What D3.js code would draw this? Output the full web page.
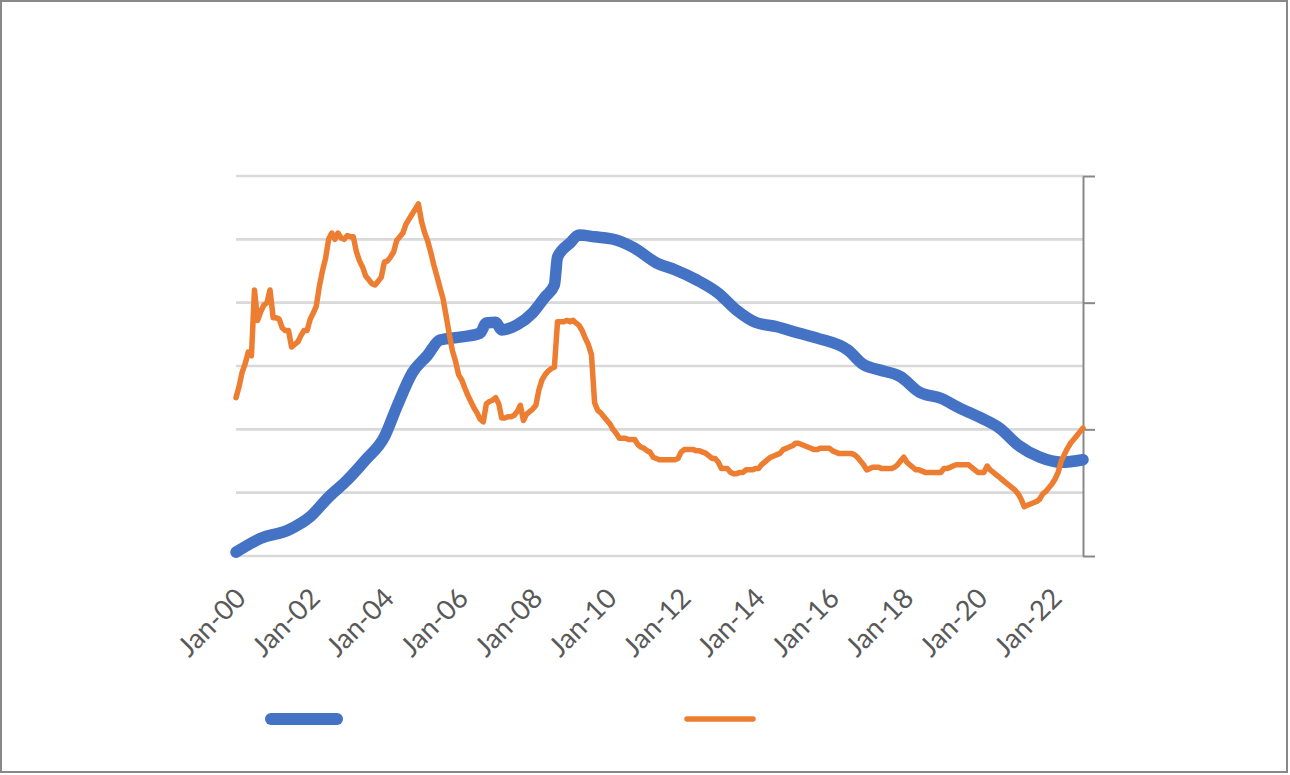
<!DOCTYPE html>
<html>
<head>
<meta charset="utf-8">
<script src="https://cdn.jsdelivr.net/npm/d3@7"></script>
<style>
  html, body { margin: 0; padding: 0; background: #fff; }
  svg { display: block; }
</style>
</head>
<body>
<svg id="chart" width="1290" height="775"></svg>
<script>
// ---------- DATA ----------
// Blue series (left axis), sampled points
const blueDates = ["2000-01","2000-09","2001-06","2002-01","2002-07","2003-01","2003-07","2004-01","2004-05","2004-10",
  "2005-03","2005-07","2006-02","2006-08","2006-10","2007-01","2007-03","2007-08","2008-01","2008-05",
  "2008-08","2008-09","2009-01","2009-04","2009-09","2010-04","2010-10","2011-05","2011-11","2012-06",
  "2013-01","2013-07","2014-01","2014-08","2015-03","2015-09","2016-07","2016-12","2017-05","2017-12",
  "2018-06","2019-01","2019-07","2020-02","2020-08","2021-02","2021-09","2022-04","2022-11"];
const blueValues = [0.06,0.28,0.41,0.62,0.93,1.20,1.52,1.88,2.35,2.89,
  3.17,3.41,3.46,3.52,3.68,3.69,3.57,3.65,3.84,4.09,
  4.28,4.72,4.94,5.07,5.04,4.99,4.86,4.63,4.52,4.36,
  4.15,3.88,3.69,3.62,3.52,3.44,3.25,3.02,2.94,2.83,
  2.59,2.49,2.34,2.18,2.02,1.75,1.56,1.48,1.52];

// Orange series (right axis), monthly from Jan 2000 to Nov 2022
const orangeStart = "2000-01";
const orangeValues = [
  1.25,1.34,1.45,1.52,1.61,1.58,2.10,1.86,1.93,1.98,2.00,2.10, // 2000
  1.88,1.88,1.87,1.80,1.78,1.78,1.65,1.67,1.69,1.74,1.78,1.78, // 2001
  1.87,1.92,1.97,2.13,2.25,2.35,2.50,2.55,2.50,2.55,2.51,2.50, // 2002
  2.53,2.52,2.52,2.40,2.33,2.28,2.21,2.18,2.15,2.14,2.17,2.20, // 2003
  2.32,2.33,2.36,2.40,2.49,2.52,2.55,2.62,2.66,2.70,2.74,2.78, // 2004
  2.64,2.55,2.49,2.40,2.30,2.21,2.12,2.03,1.89,1.75,1.62,1.54, // 2005
  1.43,1.39,1.33,1.27,1.22,1.17,1.13,1.08,1.06,1.20,1.22,1.23, // 2006
  1.25,1.20,1.09,1.09,1.10,1.10,1.11,1.14,1.19,1.07,1.12,1.14, // 2007
  1.16,1.19,1.31,1.39,1.43,1.46,1.48,1.49,1.85,1.85,1.85,1.86, // 2008
  1.85,1.86,1.84,1.82,1.78,1.72,1.67,1.59,1.21,1.15,1.13,1.10, // 2009
  1.07,1.04,1.00,0.97,0.93,0.93,0.93,0.92,0.92,0.92,0.88,0.86, // 2010
  0.85,0.83,0.82,0.78,0.77,0.76,0.76,0.76,0.76,0.76,0.76,0.77, // 2011
  0.82,0.84,0.84,0.84,0.84,0.83,0.83,0.82,0.81,0.79,0.77,0.77, // 2012
  0.74,0.69,0.69,0.69,0.66,0.65,0.65,0.66,0.66,0.68,0.68,0.68, // 2013
  0.69,0.69,0.72,0.74,0.76,0.78,0.79,0.80,0.81,0.84,0.85,0.86, // 2014
  0.87,0.89,0.89,0.88,0.87,0.86,0.85,0.84,0.84,0.85,0.85,0.85, // 2015
  0.85,0.83,0.82,0.81,0.81,0.81,0.81,0.81,0.80,0.78,0.75,0.72, // 2016
  0.68,0.69,0.70,0.70,0.70,0.69,0.69,0.69,0.69,0.70,0.72,0.75, // 2017
  0.78,0.74,0.72,0.70,0.68,0.68,0.67,0.66,0.66,0.66,0.66,0.66, // 2018
  0.66,0.69,0.69,0.70,0.71,0.72,0.72,0.72,0.72,0.72,0.70,0.68, // 2019
  0.66,0.66,0.66,0.71,0.68,0.66,0.64,0.62,0.60,0.58,0.56,0.54, // 2020
  0.52,0.49,0.45,0.39,0.40,0.41,0.42,0.43,0.45,0.49,0.51,0.54, // 2021
  0.57,0.61,0.66,0.75,0.80,0.85,0.89,0.92,0.95,0.98,1.01       // 2022
];

// Axis settings
const xDomain = ["2000-01","2022-11"];
const xTickLabels = ["Jan-00","Jan-02","Jan-04","Jan-06","Jan-08","Jan-10","Jan-12","Jan-14","Jan-16","Jan-18","Jan-20","Jan-22"];
const leftTicks = [0,1,2,3,4,5,6];
const rightTicks = [0,1,2,3];

// ---------- DRAWING ----------
const parseM = d3.timeParse("%Y-%m");
const parseLbl = d3.timeParse("%b-%y");
const svg = d3.select("#chart");

const plot = {left: 236, right: 1083, top: 176, bottom: 556};

const x = d3.scaleTime().domain(xDomain.map(parseM)).range([plot.left, plot.right]);
const yL = d3.scaleLinear().domain([0, 6]).range([plot.bottom, plot.top]);
const yR = d3.scaleLinear().domain([0, 3]).range([plot.bottom, plot.top]);

// outer frame
svg.append("rect")
  .attr("x", 1).attr("y", 1).attr("width", 1286).attr("height", 771)
  .attr("fill", "#fff").attr("stroke", "#898989").attr("stroke-width", 2);

// gridlines
svg.append("g").selectAll("line").data(leftTicks).join("line")
  .attr("x1", plot.left).attr("x2", plot.right)
  .attr("y1", d => yL(d)).attr("y2", d => yL(d))
  .attr("stroke", "#d9d9d9").attr("stroke-width", 2.6);

// right axis
const rAxis = svg.append("g")
  .attr("transform", `translate(${plot.right},0)`)
  .call(d3.axisRight(yR).tickValues(rightTicks).tickSize(12).tickSizeOuter(0).tickFormat(""));
rAxis.selectAll("path,line").attr("stroke", "#888888").attr("stroke-width", 2);

// x axis labels
const xAxis = svg.append("g")
  .attr("transform", `translate(0,${plot.bottom})`)
  .call(d3.axisBottom(x).tickValues(xTickLabels.map(parseLbl)).tickSize(0).tickFormat(d3.timeFormat("%b-%y")));
xAxis.select(".domain").remove();
xAxis.selectAll("text")
  .attr("font-family", "Lato, 'Liberation Sans', sans-serif")
  .attr("font-size", 27.5)
  .attr("fill", "#595959")
  .attr("text-anchor", "end")
  .attr("y", 0).attr("dy", 0)
  .attr("transform", "translate(11,44) rotate(-45)");

// lines
const blueData = blueDates.map((d, i) => ({date: parseM(d), v: blueValues[i]}));
const oStart = parseM(orangeStart);
const orangeData = orangeValues.map((v, i) => ({date: d3.timeMonth.offset(oStart, i), v}));

svg.append("path").datum(blueData)
  .attr("fill", "none").attr("stroke", "#4472c4").attr("stroke-width", 11.5)
  .attr("stroke-linejoin", "round").attr("stroke-linecap", "round")
  .attr("d", d3.line().x(d => x(d.date)).y(d => yL(d.v)).curve(d3.curveMonotoneX));

svg.append("path").datum(orangeData)
  .attr("fill", "none").attr("stroke", "#ed7d31").attr("stroke-width", 5.5)
  .attr("stroke-linejoin", "round").attr("stroke-linecap", "round")
  .attr("d", d3.line().x(d => x(d.date)).y(d => yR(d.v)));

// legend (symbols only, as in the reference)
const legend = [
  {color: "#4472c4", width: 12, x1: 271, x2: 337},
  {color: "#ed7d31", width: 5.5, x1: 687, x2: 753}
];
svg.append("g").selectAll("line").data(legend).join("line")
  .attr("x1", d => d.x1).attr("x2", d => d.x2)
  .attr("y1", 719).attr("y2", 719)
  .attr("stroke", d => d.color).attr("stroke-width", d => d.width)
  .attr("stroke-linecap", "round");
</script>
</body>
</html>
